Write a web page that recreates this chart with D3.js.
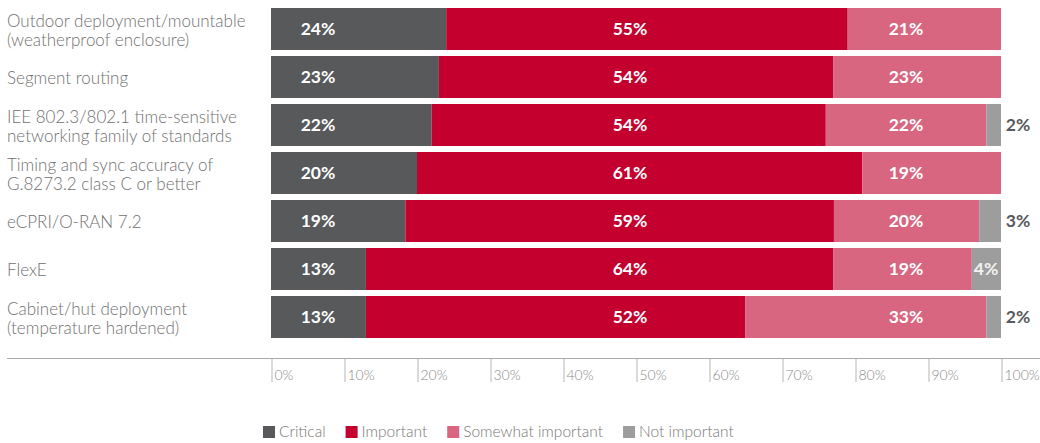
<!DOCTYPE html>
<html>
<head>
<meta charset="utf-8">
<script src="https://cdn.jsdelivr.net/npm/d3@7"></script>
<style>
body { margin: 0; background: #fff; }
svg text { font-family: Lato, "Open Sans", sans-serif; }
</style>
</head>
<body>
<svg id="chart" width="1040" height="443"></svg>
<script>

// data (percent of respondents)
var categories = [
  ['Outdoor deployment/mountable', '(weatherproof enclosure)'],
  ['Segment routing'],
  ['IEE 802.3/802.1 time-sensitive', 'networking family of standards'],
  ['Timing and sync accuracy of', 'G.8273.2 class C or better'],
  ['eCPRI/O-RAN 7.2'],
  ['FlexE'],
  ['Cabinet/hut deployment', '(temperature hardened)']
];
var critical      = [24, 23, 22, 20, 18.5, 13, 13];
var important     = [55, 54, 54, 61, 59, 64, 52];
var somewhat      = [21, 23, 22, 19, 20, 19, 33];
var notImportant  = [0, 0, 2, 0, 3, 4, 2];
var seriesNames   = ['Critical', 'Important', 'Somewhat important', 'Not important'];
var seriesColors  = ['#58595b', '#c4002f', '#d96680', '#9d9d9d'];
var tickValues    = [0, 10, 20, 30, 40, 50, 60, 70, 80, 90, 100];

var svg = d3.select('#chart');

var rows = categories.map(function(c, i) {
  return { idx: i, c0: critical[i], c1: important[i], c2: somewhat[i], c3: notImportant[i] };
});
var stacked = d3.stack().keys(['c0', 'c1', 'c2', 'c3']).offset(d3.stackOffsetExpand)(rows);

var x = d3.scaleLinear().domain([0, 1]).range([271, 1001]);
var y = d3.scaleBand().domain(d3.range(categories.length))
  .range([5, 341]).paddingInner(0.125).paddingOuter(0.0625);

// bars
var layer = svg.selectAll('g.layer').data(stacked).enter().append('g')
  .attr('class', 'layer')
  .attr('fill', function(d, i) { return seriesColors[i]; });

layer.selectAll('rect').data(function(d) { return d; }).enter().append('rect')
  .attr('x', function(d) { return x(d[0]); })
  .attr('y', function(d) { return y(d.data.idx); })
  .attr('width', function(d) { return Math.max(0, x(d[1]) - x(d[0])); })
  .attr('height', y.bandwidth());

// value labels sit in fixed columns
var labelCols = [318, 630, 906];
[critical, important, somewhat].forEach(function(vals, s) {
  svg.append('g').selectAll('text').data(vals).enter().append('text')
    .attr('x', labelCols[s])
    .attr('y', function(d, i) { return y(i) + y.bandwidth() / 2; })
    .attr('dy', '0.36em')
    .attr('text-anchor', 'middle')
    .attr('fill', '#fff')
    .style('font-size', '17.5px')
    .style('font-weight', 700)
    .text(function(d) { return Math.round(d) + '%'; });
});

// not important: outside the bar unless the segment is wide enough
var niG = svg.append('g');
notImportant.forEach(function(d, i) {
  if (!d) return;
  var inside = d >= 4;
  niG.append('text')
    .attr('x', inside ? x(1) - 15 : x(1) + 17)
    .attr('y', y(i) + y.bandwidth() / 2)
    .attr('dy', '0.36em')
    .attr('text-anchor', 'middle')
    .attr('fill', inside ? '#f2f2f2' : '#58595b')
    .style('font-size', '17.5px')
    .style('font-weight', 700)
    .text(d + '%');
});

// category labels
var catG = svg.append('g');
categories.forEach(function(lines, i) {
  var cy = y(i) + y.bandwidth() / 2;
  var t = catG.append('text')
    .attr('fill', '#707070')
    .style('font-size', '17px')
    .style('font-weight', 300);
  lines.forEach(function(line, j) {
    t.append('tspan')
      .attr('x', 7)
      .attr('y', cy + 7 + (j - (lines.length - 1) / 2) * 19)
      .text(line);
  });
});

// axis
svg.append('line')
  .attr('x1', 7).attr('x2', 1040)
  .attr('y1', 358.5).attr('y2', 358.5)
  .attr('stroke', '#aaa');

var xPct = d3.scaleLinear().domain([0, 100]).range([271, 1001]);
var axis = svg.append('g').attr('transform', 'translate(0,359)')
  .call(d3.axisBottom(xPct).tickValues(tickValues).tickSize(23).tickFormat(function(d) { return d + '%'; }));
axis.select('.domain').remove();
axis.selectAll('.tick line').attr('stroke', '#b5b5b5').attr('transform', 'translate(0.5,0)');
axis.selectAll('.tick text')
  .attr('text-anchor', 'start')
  .attr('x', 3)
  .attr('y', 11)
  .attr('fill', '#8a8a8a')
  .style('font-size', '14px')
  .style('font-weight', 300)
  .style('font-family', 'Lato, sans-serif');

// legend
var legend = svg.append('g').attr('transform', 'translate(263,426)');
var lx = 0;
seriesNames.forEach(function(name, i) {
  var g = legend.append('g').attr('transform', 'translate(' + lx + ',0)');
  g.append('rect').attr('width', 12).attr('height', 12).attr('fill', seriesColors[i]);
  var t = g.append('text')
    .attr('x', 16).attr('y', 11)
    .attr('fill', '#777')
    .style('font-size', '15.5px')
    .style('font-weight', 300)
    .text(name);
  lx += 16 + t.node().getComputedTextLength() + 20;
});

</script>
</body>
</html>
